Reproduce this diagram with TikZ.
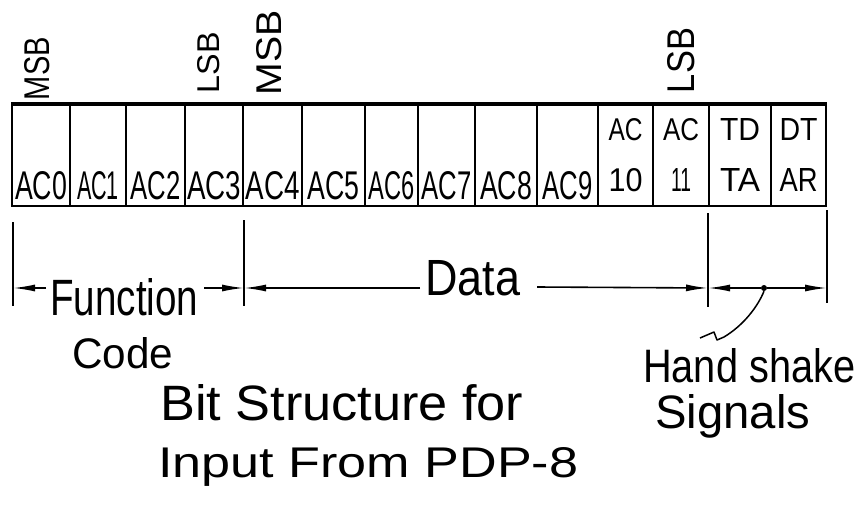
\documentclass[tikz,border=0pt]{standalone}
\usepackage{fontspec}
\setmainfont{Liberation Sans}
\usetikzlibrary{arrows.meta}
\newcommand\hw[3]{\resizebox{#1pt}{#2pt}{#3}}
\begin{document}
\begin{tikzpicture}[x=1pt,y=-1pt,
  cell/.style={draw, line width=2.2pt, inner sep=0pt, minimum height=101pt},
  lbl/.style={anchor=base, inner sep=0pt},
  ext/.style={line width=1.5pt},
  dimln/.style={line width=1.6pt},
  arr/.style={dimln, -{Latex[length=22pt,width=7pt]}},
  txt/.style={anchor=base west, inner sep=0pt},
  vlbl/.style={rotate=90, inner sep=0pt, anchor=center}]
\fill[white] (0,0) rectangle (861,508);
\useasboundingbox (0,0) rectangle (861,508);

% register cells
\foreach \a/\b/\t/\w [count=\i from 0] in
  {12/70/AC0/52, 70/126/AC1/42, 126/185/AC2/50, 185/243/AC3/54,
   243/302/AC4/54, 302/365/AC5/52, 365/418/AC6/46, 418/475/AC7/50,
   475/537/AC8/52, 537/598/AC9/50}
{
  \node[cell, minimum width={(\b-\a)*1pt}] (c\i) at ({(\a+\b)/2},155.5) {};
  \node[lbl] (l\i) at ({(\a+\b)/2},199) {\hw{\w}{28}{\t}};
}
\foreach \a/\b/\u/\uw/\v/\vw [count=\i from 10] in
  {598/653/AC/34/10/34, 653/709/AC/36/11/20, 709/771/TD/40/TA/40, 771/826/DT/38/AR/38}
{
  \node[cell, minimum width={(\b-\a)*1pt}] (c\i) at ({(\a+\b)/2},155.5) {};
  \node[lbl] (u\i) at ({(\a+\b)/2},140) {\hw{\uw}{22}{\u}};
  \node[lbl] (v\i) at ({(\a+\b)/2},191) {\hw{\vw}{23}{\v}};
}
\draw[line width=3.4pt] (c0.north west) -- (c13.north east);

% MSB / LSB markers
\node[vlbl] (msb1) at (37,68.5) {\hw{63}{25}{MSB}};
\node[vlbl] (lsb1) at (209,62.5) {\hw{61}{22}{LSB}};
\node[vlbl] (msb2) at (269.5,52.5) {\hw{85}{25}{MSB}};
\node[vlbl] (lsb2) at (681,60.5) {\hw{65}{27}{LSB}};

% extension lines
\coordinate (x0t) at (13,222);  \coordinate (x0b) at (13,306);
\coordinate (x1t) at (244,220); \coordinate (x1b) at (244,306);
\coordinate (x2t) at (708,213); \coordinate (x2b) at (708,307);
\coordinate (x3t) at (827,210); \coordinate (x3b) at (827,303);
\draw[ext] (x0t) -- (x0b);
\draw[ext] (x1t) -- (x1b);
\draw[ext] (x2t) -- (x2b);
\draw[ext] (x3t) -- (x3b);

% dimension line pieces
\coordinate (d0) at (13,288);
\coordinate (d1) at (244,288);
\coordinate (d2) at (708,288);
\coordinate (d3) at (827,288);
\coordinate (f1) at (46,288);
\coordinate (f2) at (204,288);
\coordinate (g1) at (420,288);
\coordinate (g2) at (537,287);
\node[circle, fill, inner sep=0pt, minimum size=6pt] (dot) at (764,288) {};

\draw[arr] (f1) -- (d0);
\draw[arr] (f2) -- (d1);
\draw[arr] (g1) -- (d1);
\draw[arr] (g2) -- (d2);
\draw[arr] (dot) -- (d2);
\draw[arr] (dot) -- (d3);

% leader to "Hand shake"
\coordinate (k1) at (724,337);
\coordinate (k2) at (717,340);
\coordinate (k3) at (714,332);
\coordinate (k4) at (700,338);
\draw[line width=1.5pt, line join=round] (dot.south) .. controls (758,306) and (744,325) .. (k1) -- (k2) -- (k3) -- (k4);

% texts
\node[txt] (fn) at (50,315) {\hw{148}{37}{Function}};
\node[txt] (code) at (72,368) {\hw{101}{31}{Code}};
\node[txt] (data) at (425,295) {\hw{95}{35}{Data}};
\node[txt] (hs) at (643,382) {\hw{212}{34}{Hand shake}};
\node[txt] (sig) at (655,428) {\hw{155}{34}{Signals}};
\node[txt] (t1) at (160,420) {\hw{363}{36}{Bit Structure for}};
\node[txt] (t2) at (158,477) {\hw{420}{30}{Input From PDP-8}};
\end{tikzpicture}
\end{document}
